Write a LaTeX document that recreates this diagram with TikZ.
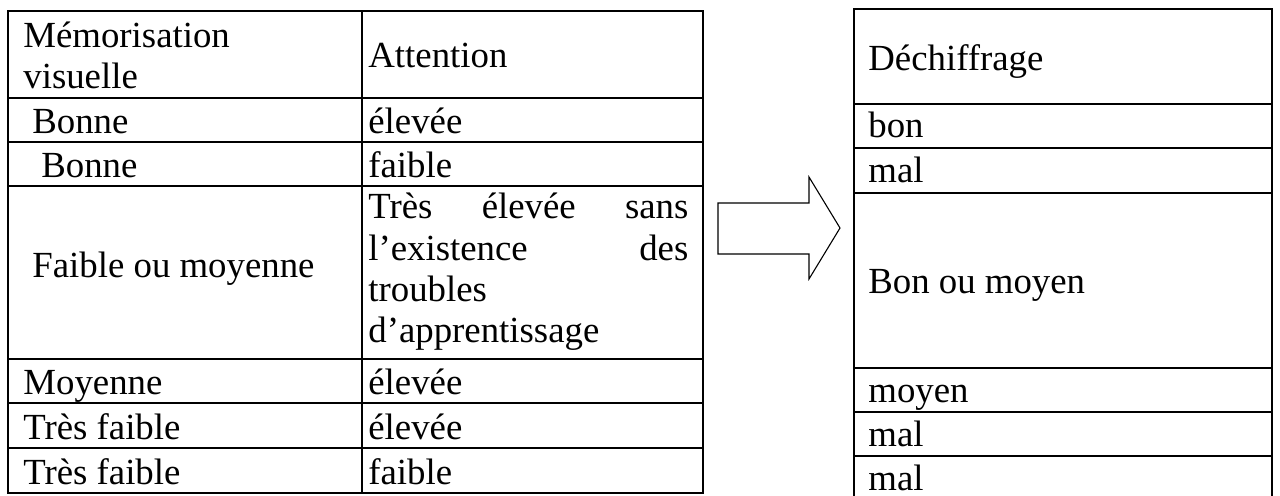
\documentclass[tikz,border=0pt]{standalone}
\usepackage{fontspec}
\setmainfont{Liberation Serif}
\begin{document}
\begin{tikzpicture}[x=0.5pt,y=-0.5pt]
\tikzset{
  cell/.style={anchor=base west, inner sep=0pt, font=\fontsize{18.4}{21}\selectfont},
  rule/.style={line width=1pt, line cap=rect},
  blockarrow/.style={line width=0.55pt, line join=miter}
}
\useasboundingbox (0,0) rectangle (1280,495);
% left table
\draw[rule] (8,11) rectangle (703,493);
\draw[rule] (362,11) -- (362,493);
\foreach \yy in {98,142,186,359,403,448}{\draw[rule] (8,\yy) -- (703,\yy);}
% right table
\draw[rule] (854,496) -- (854,9) -- (1272,9) -- (1272,496);
\foreach \yy in {104,148,193,368,412,456}{\draw[rule] (854,\yy) -- (1272,\yy);}
% block arrow
\draw[blockarrow] (718,203) -- (809,203) -- (809,177) -- (840,228) -- (809,279) -- (809,254) -- (718,254) -- cycle;
% left column texts
\node[cell] (m0a) at (23,47) {Mémorisation};
\node[cell] (m0b) at (23,88) {visuelle};
\node[cell] (m1) at (32,133) {Bonne};
\node[cell] (m2) at (41,177) {Bonne};
\node[cell] (m3) at (32,277) {Faible ou moyenne};
\node[cell] (m4) at (23,394) {Moyenne};
\node[cell] (m5) at (23,439) {Très faible};
\node[cell] (m6) at (23,484) {Très faible};
% attention column texts
\node[cell] (a0) at (368,67) {Attention};
\node[cell] (a1) at (368,133) {élevée};
\node[cell] (a2) at (368,177) {faible};
\node[cell] (a3a) at (368,218) {\hbox to 160pt{Très\hfill élevée\hfill sans}};
\node[cell] (a3b) at (368,260) {\hbox to 160pt{l’existence\hfill des}};
\node[cell] (a3c) at (368,301) {troubles};
\node[cell] (a3d) at (368,342) {d’apprentissage};
\node[cell] (a4) at (368,394) {élevée};
\node[cell] (a5) at (368,439) {élevée};
\node[cell] (a6) at (368,484) {faible};
% right table texts
\node[cell] (d0) at (868,70) {Déchiffrage};
\node[cell] (d1) at (868,137) {bon};
\node[cell] (d2) at (868,182) {mal};
\node[cell] (d3) at (868,293) {Bon ou moyen};
\node[cell] (d4) at (868,402) {moyen};
\node[cell] (d5) at (868,446) {mal};
\node[cell] (d6) at (868,490) {mal};
\end{tikzpicture}
\end{document}
